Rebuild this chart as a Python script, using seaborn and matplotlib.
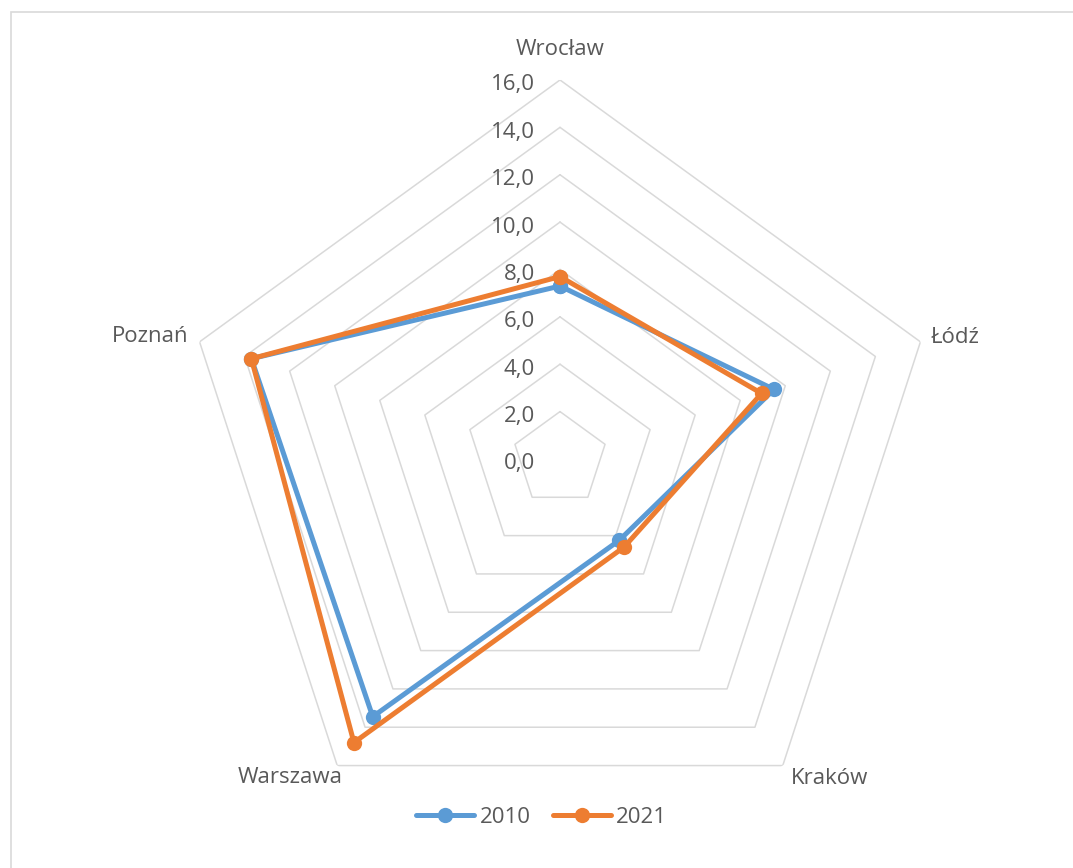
import numpy as np
import pandas as pd
import matplotlib.pyplot as plt
from matplotlib.patches import Rectangle
import seaborn as sns

sns.set_style("white")
plt.rcParams['font.family'] = ['Open Sans', 'DejaVu Sans']

cities = ["Wrocław", "Łódź", "Kraków", "Warszawa", "Poznań"]
years = ["2010", "2021"]
values_2010 = [7.3, 9.5, 4.25, 13.45, 13.7]
values_2021 = [7.7, 8.95, 4.6, 14.8, 13.7]
rticks = [0, 2, 4, 6, 8, 10, 12, 14, 16]

myPalette = ["#5B9BD5", "#ED7D31"]
textcolor = "#595959"
gridcolor = "#D9D9D9"
fs = 16

# pixel offsets of the category labels from the outer vertices
label_offsets = [(0, 30), (35, 4), (47, -13), (-47, -12), (-49, 5)]

n = len(cities)
angles = [2 * np.pi * i / n for i in range(n)]
angles_closed = angles + [2 * np.pi]

# build long frame, closing the polygon with the first point again
rows = []
for year, vals in zip(years, [values_2010, values_2021]):
    for a, v in zip(angles_closed, vals + vals[:1]):
        rows.append({"theta": a, "value": v, "year": year})
df = pd.DataFrame(rows)

fig = plt.figure(figsize=(10.73, 8.68), dpi=100)
ax = fig.add_axes([0.1687, 0.0346, 0.7064, 0.8733], projection="polar")
ax.set_theta_offset(np.pi / 2)
ax.set_theta_direction(-1)
ax.grid(False)
ax.spines["polar"].set_visible(False)
ax.set_xticks([])
ax.set_yticks([])
ax.set_ylim(0, 16)

# pentagon grid
for r in rticks[1:]:
    ax.plot(angles_closed, [r] * len(angles_closed), color=gridcolor, lw=1.1, zorder=0)

sns.lineplot(data=df, x="theta", y="value", hue="year", palette=myPalette,
             sort=False, estimator=None, marker="o", markersize=11,
             markeredgewidth=0, linewidth=3.6, ax=ax)
ax.set_xlabel("")
ax.set_ylabel("")

handles, labels = ax.get_legend_handles_labels()
ax.get_legend().remove()
fig.legend(handles, labels, loc="center", bbox_to_anchor=(0.505, 0.058), ncol=2,
           frameon=False, fontsize=fs, labelcolor=textcolor, handlelength=2.6,
           columnspacing=1.0, handletextpad=0.25)

# radial value labels
for v in rticks:
    ax.annotate(f"{v:.1f}".replace(".", ","), xy=(0, v), xytext=(-25, -5),
                textcoords="offset pixels", ha="right", va="center",
                fontsize=fs, color=textcolor)

# category labels
for a, c, off in zip(angles, cities, label_offsets):
    ax.annotate(c, xy=(a, 16), xytext=off, textcoords="offset pixels",
                ha="center", va="center", fontsize=fs, color=textcolor,
                annotation_clip=False)

# chart border
fig.add_artist(Rectangle((11 / 1073, -0.02), 1.1, 1 - 12 / 868 + 0.02,
                         transform=fig.transFigure, fill=False,
                         edgecolor=gridcolor, lw=1.2))

fig.savefig("out.png", dpi=100)
